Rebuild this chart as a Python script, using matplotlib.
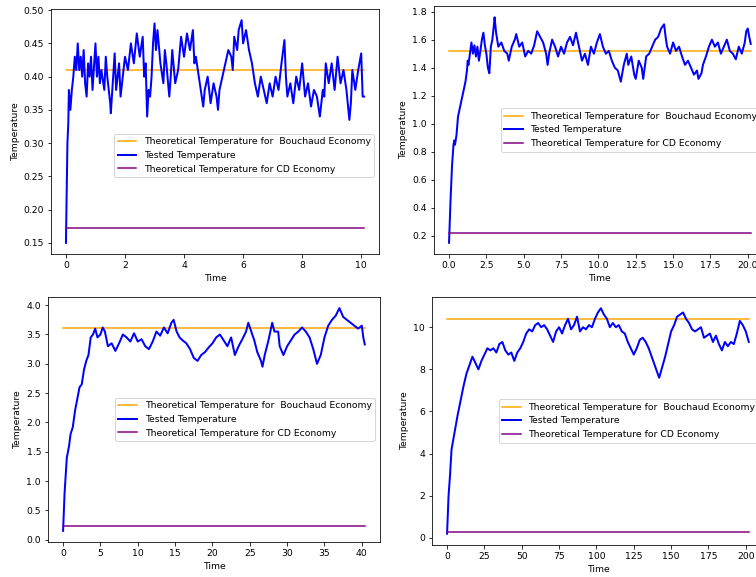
import numpy as np
import matplotlib
matplotlib.use("Agg")
import matplotlib.pyplot as plt

plt.rcParams["font.size"] = 9.3

# panel 1 : short run
t1 = [0, 0.02, 0.05, 0.08, 0.1, 0.15, 0.2, 0.25, 0.3, 0.35, 0.4, 0.45, 0.5, 0.55, 0.6, 0.65, 0.7, 0.75,
      0.8, 0.85, 0.9, 1.0, 1.05, 1.1, 1.15, 1.2, 1.3, 1.35, 1.4, 1.5, 1.52, 1.6, 1.65, 1.7, 1.8, 1.85,
      1.9, 2.0, 2.1, 2.2, 2.3, 2.4, 2.5, 2.6, 2.65, 2.7, 2.75, 2.8, 2.85, 2.9, 2.95, 3.0, 3.05, 3.1,
      3.2, 3.3, 3.35, 3.4, 3.5, 3.55, 3.6, 3.7, 3.8, 3.9, 4.0, 4.1, 4.2, 4.3, 4.35, 4.4, 4.5, 4.6,
      4.65, 4.7, 4.8, 4.9, 5.0, 5.1, 5.15, 5.2, 5.3, 5.4, 5.5, 5.6, 5.65, 5.7, 5.8, 5.85, 5.95, 6.0,
      6.1, 6.2, 6.3, 6.4, 6.5, 6.6, 6.7, 6.8, 6.9, 7.0, 7.1, 7.2, 7.3, 7.4, 7.45, 7.5, 7.6, 7.7, 7.8,
      7.9, 8.0, 8.1, 8.2, 8.3, 8.4, 8.5, 8.6, 8.7, 8.75, 8.8, 8.9, 9.0, 9.1, 9.2, 9.3, 9.4, 9.5, 9.6,
      9.65, 9.7, 9.8, 9.9, 10.0, 10.05, 10.1]
temp1 = [0.15, 0.21, 0.30, 0.33, 0.38, 0.35, 0.38, 0.40, 0.43, 0.41, 0.45, 0.41, 0.43, 0.40, 0.44, 0.39,
         0.37, 0.42, 0.40, 0.43, 0.38, 0.45, 0.40, 0.43, 0.39, 0.41, 0.38, 0.43, 0.40, 0.36, 0.345, 0.40,
         0.435, 0.38, 0.42, 0.37, 0.39, 0.43, 0.41, 0.45, 0.42, 0.465, 0.43, 0.46, 0.40, 0.42, 0.34, 0.38,
         0.37, 0.40, 0.45, 0.48, 0.44, 0.47, 0.42, 0.39, 0.44, 0.42, 0.37, 0.40, 0.44, 0.39, 0.41, 0.46,
         0.43, 0.465, 0.44, 0.47, 0.42, 0.43, 0.40, 0.37, 0.355, 0.38, 0.40, 0.36, 0.39, 0.37, 0.35, 0.38,
         0.40, 0.42, 0.44, 0.43, 0.41, 0.46, 0.44, 0.47, 0.485, 0.45, 0.47, 0.44, 0.42, 0.39, 0.37, 0.40,
         0.38, 0.36, 0.39, 0.37, 0.40, 0.38, 0.42, 0.455, 0.40, 0.37, 0.39, 0.36, 0.40, 0.38, 0.42, 0.37,
         0.39, 0.355, 0.38, 0.37, 0.34, 0.38, 0.37, 0.42, 0.39, 0.42, 0.38, 0.43, 0.39, 0.41, 0.38, 0.335,
         0.36, 0.41, 0.38, 0.41, 0.435, 0.37, 0.37]
bouchaud1 = 0.41
cd1 = 0.172

# panel 2
t2 = [0, 0.1, 0.2, 0.3, 0.35, 0.4, 0.5, 0.6, 0.7, 0.8, 0.9, 1.0, 1.1, 1.2, 1.25, 1.3, 1.4, 1.5, 1.6,
      1.7, 1.8, 1.9, 2.0, 2.1, 2.2, 2.3, 2.4, 2.5, 2.6, 2.7, 2.8, 2.9, 3.0, 3.05, 3.15, 3.3, 3.5, 3.7,
      3.9, 4.0, 4.2, 4.4, 4.5, 4.7, 4.9, 5.1, 5.3, 5.5, 5.7, 5.9, 6.1, 6.3, 6.5, 6.6, 6.7, 6.9, 7.1,
      7.3, 7.5, 7.7, 7.9, 8.1, 8.3, 8.5, 8.7, 8.9, 9.1, 9.3, 9.5, 9.7, 9.9, 10.1, 10.3, 10.5, 10.7,
      10.9, 11.1, 11.3, 11.5, 11.7, 11.9, 12.0, 12.2, 12.4, 12.5, 12.7, 12.9, 13.0, 13.2, 13.4, 13.6,
      13.8, 14.0, 14.2, 14.4, 14.5, 14.6, 14.8, 15.0, 15.2, 15.4, 15.6, 15.8, 16.0, 16.2, 16.4, 16.6,
      16.7, 16.9, 17.0, 17.2, 17.4, 17.6, 17.8, 18.0, 18.2, 18.4, 18.6, 18.8, 19.0, 19.2, 19.4, 19.6,
      19.8, 19.9, 20.0, 20.1, 20.2]
temp2 = [0.15, 0.45, 0.70, 0.85, 0.88, 0.85, 0.92, 1.05, 1.10, 1.15, 1.20, 1.25, 1.30, 1.38, 1.45, 1.42,
         1.50, 1.58, 1.50, 1.56, 1.48, 1.55, 1.45, 1.52, 1.60, 1.65, 1.56, 1.50, 1.40, 1.36, 1.55, 1.60,
         1.70, 1.76, 1.65, 1.55, 1.58, 1.52, 1.50, 1.45, 1.55, 1.60, 1.64, 1.55, 1.58, 1.48, 1.52, 1.50,
         1.56, 1.66, 1.62, 1.58, 1.50, 1.42, 1.50, 1.60, 1.55, 1.48, 1.55, 1.50, 1.58, 1.62, 1.56, 1.65,
         1.55, 1.45, 1.50, 1.42, 1.55, 1.50, 1.58, 1.64, 1.55, 1.50, 1.52, 1.45, 1.40, 1.38, 1.30, 1.42,
         1.50, 1.42, 1.48, 1.35, 1.32, 1.45, 1.40, 1.32, 1.48, 1.50, 1.55, 1.60, 1.62, 1.68, 1.71, 1.62,
         1.55, 1.50, 1.58, 1.52, 1.55, 1.48, 1.42, 1.45, 1.40, 1.35, 1.38, 1.32, 1.36, 1.42, 1.48, 1.55,
         1.60, 1.55, 1.58, 1.50, 1.55, 1.60, 1.52, 1.50, 1.46, 1.55, 1.50, 1.58, 1.66, 1.68, 1.62, 1.57]
bouchaud2 = 1.52
cd2 = 0.22

# panel 3
t3 = [0, 0.2, 0.5, 0.8, 1.0, 1.3, 1.6, 1.9, 2.2, 2.5, 2.8, 3.1, 3.4, 3.7, 4.0, 4.3, 4.6, 5.0, 5.3,
      5.6, 6.0, 6.5, 7.0, 7.5, 8.0, 8.5, 9.0, 9.5, 10, 10.5, 11, 11.5, 12, 12.5, 13, 13.5, 14, 14.5,
      14.8, 15.2, 15.6, 16, 16.5, 17, 17.5, 18, 18.5, 19, 19.5, 20, 20.5, 21, 21.5, 22, 22.5, 23, 23.5,
      24, 24.5, 24.8, 25.2, 25.6, 26, 26.5, 26.7, 27, 27.5, 28, 28.3, 28.8, 29, 29.5, 30, 30.5, 31,
      31.5, 32, 32.5, 33, 33.5, 34, 34.5, 35, 35.5, 36, 36.5, 37, 37.5, 38, 38.5, 39, 39.5, 40, 40.2, 40.4]
temp3 = [0.15, 0.8, 1.4, 1.6, 1.8, 1.92, 2.2, 2.4, 2.6, 2.65, 2.9, 3.05, 3.15, 3.45, 3.5, 3.6, 3.45,
         3.5, 3.62, 3.55, 3.3, 3.35, 3.22, 3.35, 3.5, 3.45, 3.38, 3.52, 3.38, 3.42, 3.3, 3.25, 3.38,
         3.55, 3.48, 3.62, 3.52, 3.7, 3.75, 3.55, 3.45, 3.4, 3.35, 3.25, 3.1, 3.05, 3.15, 3.2, 3.28,
         3.35, 3.45, 3.5, 3.4, 3.3, 3.45, 3.15, 3.3, 3.42, 3.55, 3.7, 3.55, 3.4, 3.2, 3.05, 2.95, 3.15,
         3.4, 3.7, 3.55, 3.55, 3.3, 3.15, 3.3, 3.4, 3.5, 3.55, 3.62, 3.55, 3.45, 3.25, 3.0, 3.15, 3.45,
         3.65, 3.75, 3.82, 3.95, 3.8, 3.75, 3.7, 3.65, 3.6, 3.65, 3.45, 3.33]
bouchaud3 = 3.61
cd3 = 0.235

# panel 4 : long run
t4 = [0, 1, 2, 3, 5, 7, 9, 11, 13, 15, 17, 19, 21, 23, 25, 27, 29, 31, 33, 35, 37, 39, 41, 43, 45,
      47, 49, 51, 53, 55, 57, 59, 61, 63, 65, 67, 69, 71, 73, 75, 77, 79, 81, 83, 85, 87, 89, 91, 93,
      95, 97, 99, 101, 103, 105, 107, 109, 111, 113, 115, 117, 119, 121, 123, 125, 127, 129, 131, 133,
      135, 137, 139, 141, 142, 144, 146, 148, 150, 152, 154, 156, 158, 160, 162, 164, 166, 168, 170,
      172, 174, 176, 178, 180, 182, 184, 186, 188, 190, 192, 194, 196, 198, 200, 202]
temp4 = [0.2, 2.0, 3.0, 4.2, 5.0, 5.8, 6.5, 7.2, 7.8, 8.2, 8.6, 8.3, 8.0, 8.4, 8.7, 9.0, 8.9, 9.0,
         8.8, 9.2, 9.3, 8.9, 8.7, 8.8, 8.4, 8.8, 9.0, 9.3, 9.7, 9.9, 9.8, 10.1, 10.2, 10.0, 10.1, 9.9,
         9.6, 9.3, 9.8, 10.0, 9.7, 10.1, 10.4, 9.9, 10.1, 10.5, 9.8, 10.0, 9.9, 10.1, 10.0, 10.4, 10.7,
         10.9, 10.6, 10.4, 10.0, 10.2, 10.0, 10.1, 9.8, 9.7, 9.3, 9.0, 8.7, 9.0, 9.4, 9.5, 9.3, 9.0, 8.6,
         8.2, 7.8, 7.6, 8.1, 8.6, 9.2, 9.8, 10.1, 10.5, 10.6, 10.7, 10.4, 10.2, 9.9, 9.8, 9.9, 10.0, 9.5,
         9.6, 9.7, 9.3, 9.6, 9.2, 8.9, 9.3, 9.1, 9.3, 9.2, 9.7, 10.3, 10.1, 9.8, 9.3]
bouchaud4 = 10.4
cd4 = 0.27

runs = [(t1, temp1, bouchaud1, cd1), (t2, temp2, bouchaud2, cd2),
        (t3, temp3, bouchaud3, cd3), (t4, temp4, bouchaud4, cd4)]

fig = plt.figure(figsize=(756 / 72, 577 / 72), dpi=72)
# [left, bottom, width, height] ; right column runs off the edge like the original
boxes = [[0.0675, 0.5598, 0.4339, 0.4246],
         [0.574, 0.5598, 0.439, 0.4298],
         [0.0635, 0.0607, 0.439, 0.4246],
         [0.5714, 0.0555, 0.439, 0.4298]]
leg_y = [0.402, 0.5, 0.5, 0.5]

for i, (t, temp, tb, tcd) in enumerate(runs):
    ax = fig.add_axes(boxes[i])
    t = np.array(t)
    ax.plot(t, np.full(len(t), tb), color="orange", label="Theoretical Temperature for  Bouchaud Economy")
    ax.plot(t, temp, color="blue", lw=2.0, label="Tested Temperature")
    ax.plot(t, np.full(len(t), tcd), color="purple", label="Theoretical Temperature for CD Economy")
    ax.set_xlabel("Time")
    ax.set_ylabel("Temperature")
    ax.legend(loc="center right", bbox_to_anchor=(1, leg_y[i]))

fig.savefig("out.png", dpi=72)
